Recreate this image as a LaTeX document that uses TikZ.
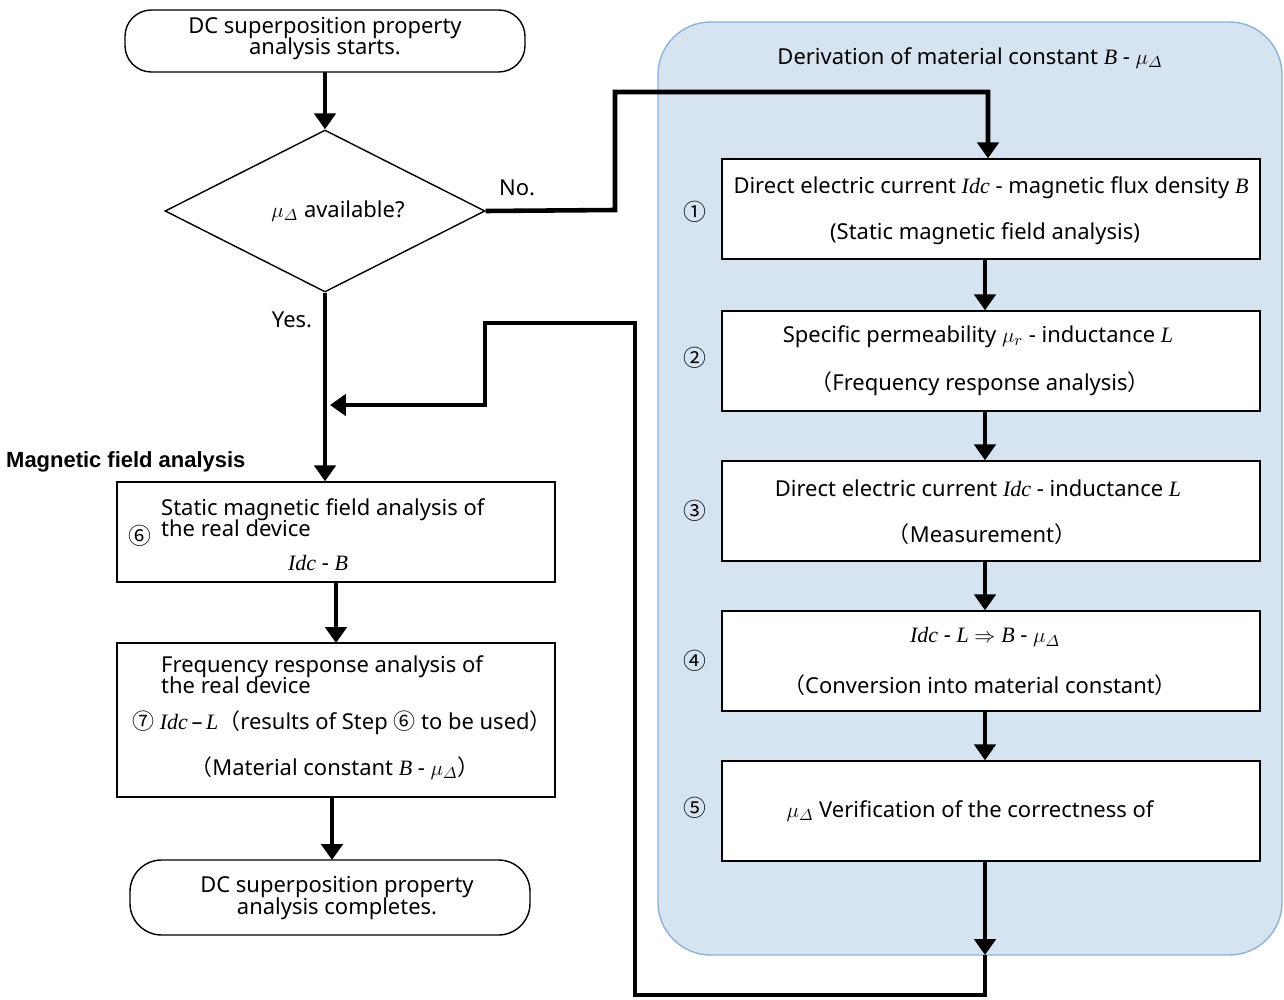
\documentclass[tikz,border=0pt]{standalone}
\usepackage{fontspec}
\setmainfont{Noto Sans}
\newfontfamily\cjk{Noto Sans CJK JP}
\newfontfamily\tms{Liberation Serif}
\newfontfamily\bsf{Liberation Sans}
\usetikzlibrary{shapes.geometric,arrows.meta}
\newcommand{\vv}[1]{{\tms\itshape #1}}
\newcommand{\md}{$\mu_{\mathnormal{\Delta}}$}
\begin{document}
\begin{tikzpicture}[x=0.02cm,y=-0.02cm,
  box/.style={draw,line width=0.8pt,fill=white,align=center,inner sep=0pt},
  flow/.style={line width=2.6pt,-{Triangle[length=9pt,width=12pt]}},
  cn/.style={font=\cjk\fontsize{13}{15}\selectfont},
  every node/.style={font=\fontsize{12.5}{15}\selectfont}]
\useasboundingbox (0,0) rectangle (1284,1000);
% panel
\draw[fill={rgb,255:red,214;green,228;blue,242},draw={rgb,255:red,140;green,178;blue,216},line width=0.8pt,rounded corners=30pt] (658,22) rectangle (1282,955);
\node at (970,58) {Derivation of material constant \vv{B} - \md};
% left chart
\draw[line width=0.8pt,rounded corners=15pt,fill=white] (125,10) rectangle (525,72);
\node[align=center] (start) at (325,39) {DC superposition property\\[-3pt]analysis starts.};
\coordinate (st) at (325,72);
\node[draw,line width=0.8pt,diamond,minimum width=320*0.02cm,minimum height=162*0.02cm,inner sep=0pt,aspect=2] (dia) at (325,211) {};
\node at (338,211) {\md\ available?};
\draw[flow] (st) -- (dia.north);
\node at (517,188) {No.};
\node at (292,320) {Yes.};
\node[anchor=west,font=\bsf\bfseries\fontsize{12.5}{15}\selectfont] at (0,462) {Magnetic field analysis};
\node[box,minimum width=438*0.02cm,minimum height=100*0.02cm] (b6) at (336,532) {};
\node[anchor=west,align=left] at (155,518) {Static magnetic field analysis of\\[-3pt]the real device};
\node[cn] at (140,536) {⑥};
\node at (318,563) {\vv{Idc} - \vv{B}};
\node[box,minimum width=438*0.02cm,minimum height=154*0.02cm] (b7) at (336,720) {};
\node[anchor=west,align=left] at (155,675) {Frequency response analysis of\\[-3pt]the real device};
\node[anchor=west] at (126,723) {{\cjk ⑦} \vv{Idc}\,\textendash\,\vv{L}{\cjk （}results of Step {\cjk ⑥} to be used{\cjk ）}};
\node at (335,768) {{\cjk （}Material constant \vv{B} - \md{\cjk ）}};
\draw[line width=0.8pt,rounded corners=18pt,fill=white] (130,860) rectangle (530,935);
\node[align=center] (end) at (337,898) {DC superposition property\\[-3pt]analysis completes.};
\coordinate (et) at (332,860);
\draw[flow] (dia.south) -- (b6.north -| dia.south);
\draw[flow] (336,582) -- (336,643);
\draw[flow] (332,797) -- (et);
% right boxes
\foreach \n/\y in {1/209,2/361,3/511,4/661,5/811}{
  \node[box,minimum width=538*0.02cm,minimum height=100*0.02cm] (r\n) at (991,\y) {};
}
\node[cn] at (695,212) {①};
\node[cn] at (695,358) {②};
\node[cn] at (695,511) {③};
\node[cn] at (695,661) {④};
\node[cn] at (695,808) {⑤};
\node at (991,188) {Direct electric current \vv{Idc} - magnetic flux density \vv{B}};
\node at (985,234) {(Static magnetic field analysis)};
\node at (978,337) {Specific permeability $\mu_r$ - inductance \vv{L}};
\node at (980,384) {{\cjk （}Frequency response analysis{\cjk ）}};
\node at (978,488) {Direct electric current \vv{Idc} - inductance \vv{L}};
\node at (982,534) {{\cjk （}Measurement{\cjk ）}};
\node at (985,637) {\vv{Idc} - \vv{L} $\Rightarrow$ \vv{B} - \md};
\node at (980,685) {{\cjk （}Conversion into material constant{\cjk ）}};
\node at (970,811) {\md\ Verification of the correctness of};
\foreach \a/\b in {r1/r2,r2/r3,r3/r4,r4/r5}{\draw[flow] (\a.south -| 985,0) -- (\b.north -| 985,0);}
\draw[flow] (dia.east) -- (615,210) -- (615,92) -- (988,92) -- (r1.north -| 988,0);
\coordinate (a5) at (985,955);
\draw[flow] (r5.south -| 985,0) -- (a5);
\draw[flow] (a5) -- (985,995) -- (635,995) -- (635,323) -- (485,323) -- (485,405) -- (330,405);
\end{tikzpicture}
\end{document}
